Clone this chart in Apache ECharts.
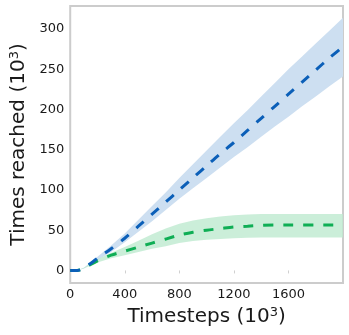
<!DOCTYPE html>
<html>
<head>
<meta charset="utf-8">
<script src="https://cdn.jsdelivr.net/npm/echarts@6/dist/echarts.min.js"></script>
<style>
  html, body { margin: 0; padding: 0; background: #fff; }
  #main { width: 349px; height: 335px; }
</style>
</head>
<body>
<div id="main"></div>
<script>
// timesteps (10^3)
var steps = [0, 50, 100, 200, 300, 400, 500, 600, 700, 800, 900, 1000, 1100, 1200, 1300, 1400, 1500, 1600, 1700, 1800, 1900, 2000];

// blue run: mean and band
var blueMean  = [0, 0, 3, 15, 27, 40, 55, 70, 85, 100, 115, 130, 145, 159, 174, 189, 204, 219, 234, 249, 264, 278];
var blueUpper = [0, 0, 3.5, 17, 31, 46, 63, 80, 97, 115, 132, 149, 166, 183, 199, 216, 233, 250, 266, 282, 298, 314];
var blueLower = [0, 0, 2.5, 13, 23, 35, 48, 61, 75, 89, 102, 115, 128, 141, 153, 166, 179, 191, 204, 216, 229, 241];

// green run: mean and band
var greenMean  = [0, 0, 3, 12, 19, 24, 29, 34, 39, 44, 47.5, 50, 52, 54, 55, 56, 56.5, 56.5, 56.5, 56.5, 56.5, 56.5];
var greenUpper = [0, 0, 3.5, 14, 22, 29, 37, 45, 52, 58, 62, 65, 67, 68.5, 69.5, 70, 70, 70, 70, 70, 70, 70];
var greenLower = [0, 0, 2.5, 10, 15, 19, 23, 27, 30, 34, 36.5, 38, 39, 40, 40.5, 41, 41, 41, 41, 41, 41, 41];

function pairs(xs, ys) {
    var out = [];
    for (var i = 0; i < xs.length; i++) out.push([xs[i], ys[i]]);
    return out;
}
function triples(xs, lo, hi) {
    var out = [];
    for (var i = 0; i < xs.length; i++) out.push([xs[i], lo[i], hi[i]]);
    return out;
}

// band drawn as one polygon: upper edge forward, lower edge back
function bandSeries(data, color) {
    return {
        type: 'custom',
        silent: true,
        data: data,
        encode: { x: 0, y: [1, 2] },
        clip: true,
        renderItem: function (params, api) {
            if (params.dataIndex !== 0) return null;
            var pts = [];
            for (var i = 0; i < data.length; i++) pts.push(api.coord([data[i][0], data[i][2]]));
            for (var j = data.length - 1; j >= 0; j--) pts.push(api.coord([data[j][0], data[j][1]]));
            return {
                type: 'polygon',
                shape: { points: pts },
                style: { fill: color }
            };
        }
    };
}

var textColor = '#1a1a1a';
var font = 'DejaVu Sans';

var myChart = echarts.init(document.getElementById('main'));

var option = {
    animation: false,
    backgroundColor: '#fff',
    grid: {
        left: 64, right: 6, top: 6, bottom: 52,
        show: true,
        borderColor: '#cccccc',
        borderWidth: 2,
        backgroundColor: 'transparent'
    },
    xAxis: {
        type: 'value',
        min: 0,
        max: 2000,
        interval: 400,
        name: 'Timesteps (10{sup|3})',
        nameLocation: 'middle',
        nameGap: 21,
        nameTextStyle: {
            fontFamily: font, fontSize: 20, color: textColor,
            rich: { sup: { fontFamily: font, fontSize: 13, color: textColor, verticalAlign: 'top', padding: [0, 0, 8, 0] } }
        },
        axisLine: { show: false },
        axisTick: { show: true, length: 3, lineStyle: { color: '#d0d0d0' } },
        splitLine: { show: false },
        axisLabel: {
            showMaxLabel: false, fontFamily: font, fontSize: 13, color: textColor, margin: 5,
            formatter: function (v) { return String(v); }
        }
    },
    yAxis: {
        type: 'value',
        min: -15.6,
        max: 328.6,
        splitNumber: 7,
        name: 'Times reached (10{sup|3})',
        nameLocation: 'middle',
        nameGap: 38,
        nameTextStyle: {
            fontFamily: font, fontSize: 20, color: textColor,
            rich: { sup: { fontFamily: font, fontSize: 13, color: textColor, verticalAlign: 'top', padding: [0, 0, 8, 0] } }
        },
        axisLine: { show: false },
        axisTick: { show: false },
        splitLine: { show: false },
        axisLabel: {
            showMinLabel: false, showMaxLabel: false,
            fontFamily: font, fontSize: 13, color: textColor, margin: 6,
            formatter: function (v) { return (Math.abs(v % 50) < 1e-6) ? String(v) : ''; }
        }
    },
    series: [
        bandSeries(triples(steps, blueLower, blueUpper), '#cddff1'),
        bandSeries(triples(steps, greenLower, greenUpper), 'rgba(190, 234, 208, 0.8)'),
        {
            type: 'line', symbol: 'none', smooth: 0.3,
            data: pairs(steps, greenMean),
            lineStyle: { color: '#0fae55', width: 3, type: [10, 10], cap: 'butt' }
        },
        {
            type: 'line', symbol: 'none', smooth: 0.3,
            data: pairs(steps, blueMean),
            lineStyle: { color: '#0b5fb8', width: 3, type: [10, 10], cap: 'butt' }
        }
    ]
};

myChart.setOption(option);
</script>
</body>
</html>
